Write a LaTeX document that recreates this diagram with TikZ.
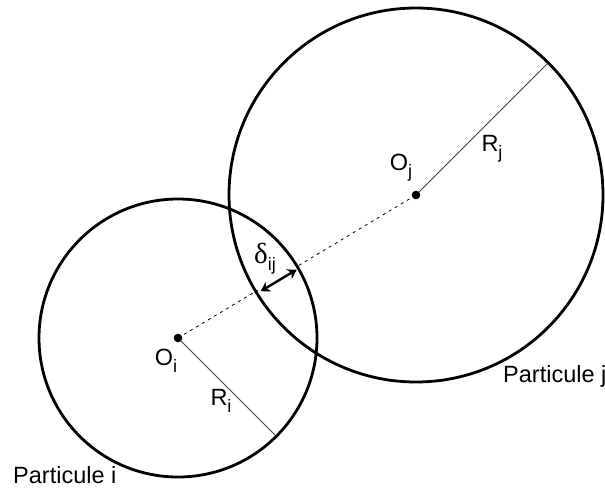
\documentclass[tikz,border=0pt]{standalone}
\usepackage{fontspec}
\setmainfont{Liberation Sans}
\newfontfamily\greekfont{Liberation Serif}
\usetikzlibrary{arrows.meta,calc}
\newcommand{\ind}[1]{\raisebox{-0.3em}{\fontsize{18}{18}\selectfont #1}}
\tikzset{
  particle/.style={line width=2.8pt},
  radius line/.style={line width=0.8pt, black!75},
  center line/.style={line width=0.8pt, dash pattern=on 3pt off 4pt},
  overlap/.style={line width=2.4pt, {Stealth[length=9pt,width=11pt]}-{Stealth[length=9pt,width=11pt]}},
  label/.style={font=\fontsize{23.5}{26}\selectfont, inner sep=0pt},
}
\begin{document}
\begin{tikzpicture}[x=1pt,y=-1pt]
\useasboundingbox (0,0) rectangle (605,491);
\coordinate (Oi) at (178,338);
\coordinate (Oj) at (416,195);
% the two particles
\draw[particle] (Oi) circle[radius=139pt];
\draw[particle] (Oj) circle[radius=187pt];
\coordinate (Ri) at ($(Oi)+(-45:139pt)$);
\coordinate (Rj) at ($(Oj)+(45:186pt)$);
\draw[radius line] (Oi) -- (Ri);
\draw[radius line] (Oj) -- (Rj);
% line of centres and overlap
\coordinate (ej) at ($(Oi)!93pt!(Oj)$);
\coordinate (ei) at ($(Oi)!141pt!(Oj)$);
\draw[center line] (Oi) -- (ej);
\draw[center line] (ei) -- (Oj);
\coordinate (da) at ($(Oi)!95pt!(Oj)!2.5pt!-90:(Oj)$);
\coordinate (db) at ($(Oi)!137pt!(Oj)!2.5pt!-90:(Oj)$);
\draw[overlap] (da) -- (db);
\foreach \c in {Oi,Oj}
  \fill (\c) circle[radius=4.3pt];
% labels
\node[label] (lOi) at (166,361) {O\ind{i}};
\node[label] (lOj) at (401,168) {O\ind{j}};
\node[label] (lRi) at (221,401) {R\ind{i}};
\node[label] (lRj) at (492,149) {R\ind{j}};
\node[label] (ldij) at (265,259) {{\greekfont\fontsize{29}{29}\selectfont δ}\ind{ij}};
\node[label, anchor=base west] (parti) at (13,483) {Particule i};
\node[label, anchor=base west] (partj) at (503,382) {Particule j};
\end{tikzpicture}
\end{document}
